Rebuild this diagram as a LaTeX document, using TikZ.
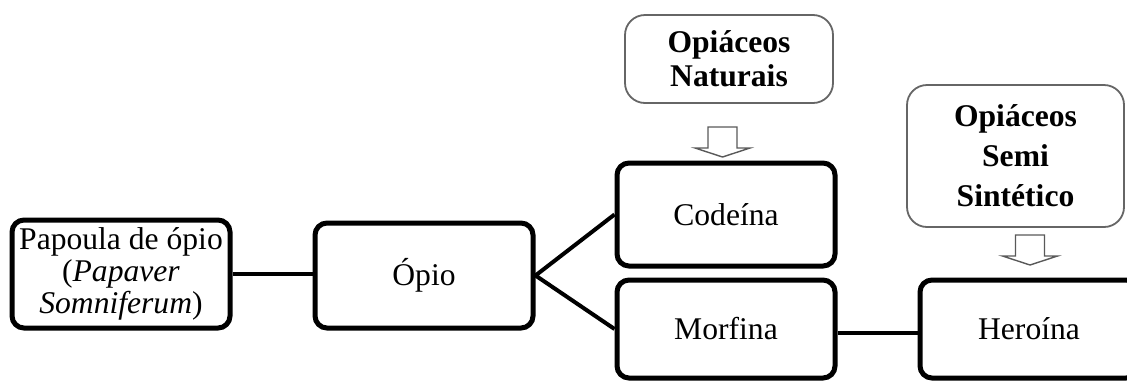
\documentclass[tikz,border=0pt]{standalone}
\usepackage{fontspec}
\setmainfont{Liberation Serif}
\usetikzlibrary{calc}

\begin{document}
\begin{tikzpicture}[x=0.5pt,y=-0.5pt,
  box/.style={draw=black, line width=2.5pt, rounded corners=6pt, fill=white,
    inner sep=0pt, minimum width=109pt, align=center, font=\fontsize{15.8}{16}\selectfont},
  topbox/.style={draw=black!60, line width=0.9pt, rounded corners=10pt, fill=white,
    inner sep=0pt, align=center, font=\fontsize{15.8}{17}\selectfont\bfseries},
  link/.style={black, line width=2pt},
  hollow/.style={draw=black!65, line width=0.7pt, fill=white, line join=miter}]
\useasboundingbox (0,0) rectangle (1127,381);
\clip (0,0) rectangle (1127,381);

% main chain
\node[box, minimum height=54pt] (papoula) at (121,274) {Papoula de ópio\\(\textit{Papaver}\\\textit{Somniferum})};
\node[box, minimum height=52.5pt] (opio) at (424,275.5) {Ópio};
\node[box, minimum height=51.5pt] (codeina) at (726,214.5) {Codeína};
\node[box, minimum height=49pt] (morfina) at (726,329) {Morfina};
\node[box, minimum height=49pt] (heroina) at (1029,329) {Heroína};

% groups
\node[topbox, minimum width=104pt, minimum height=44pt] (naturais) at (729,59) {Opiáceos\\Naturais};
\node[topbox, minimum width=108.5pt, minimum height=71pt,
  font=\fontsize{15.8}{20}\selectfont\bfseries] (semi) at (1015.5,156) {Opiáceos\\Semi\\Sintético};

% connectors
\draw[link] (papoula.east) -- (papoula.east -| opio.west);
\coordinate (fork) at (opio.east);
\draw[link] (codeina.west) -- (fork) -- (morfina.west);
\draw[link] (morfina.east |- 0,333) -- (heroina.west |- 0,333);

% hollow arrows
\coordinate (natarrow) at (722.5,127);
\coordinate (semiarrow) at (1030,235);
\foreach \c in {natarrow, semiarrow} {
  \draw[hollow] (\c) ++(-14.5,0) -- ++(0,21) -- ++(-13,0) -- ++(27.5,9)
    -- ++(27.5,-9) -- ++(-13,0) -- ++(0,-21) -- cycle;
}
\end{tikzpicture}
\end{document}
